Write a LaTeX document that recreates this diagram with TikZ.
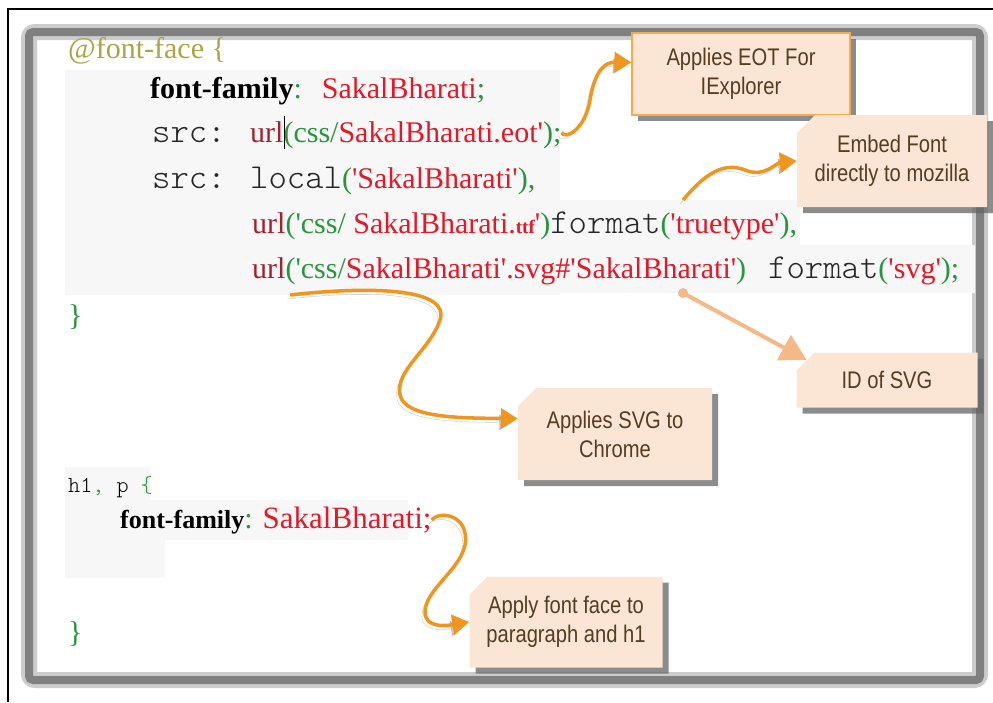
\documentclass[tikz,border=0pt]{standalone}
\usepackage{fontspec}
\setmainfont{Liberation Serif}[Ligatures=TeXOff]
\newfontfamily\codefont{Latin Modern Mono Light}
\newfontfamily\notefont[FakeStretch=0.84]{Liberation Sans}
\usetikzlibrary{arrows.meta,shapes.misc,shadows}

\definecolor{cssgreen}{RGB}{40,150,60}
\definecolor{cssred}{RGB}{225,25,40}
\definecolor{urlred}{RGB}{160,35,45}
\definecolor{atolive}{RGB}{170,165,70}
\definecolor{notefill}{RGB}{251,229,212}
\definecolor{notetext}{RGB}{85,60,35}
\definecolor{curlyor}{RGB}{240,150,30}
\definecolor{idor}{RGB}{245,185,135}

\newcommand{\gn}[1]{\textcolor{cssgreen}{#1}}
\newcommand{\rd}[1]{\textcolor{cssred}{#1}}
\newcommand{\ur}{\textcolor{urlred}{url}}
\newcommand{\mono}[1]{{\codefont\fontsize{35}{35}\selectfont\color{black!85}#1}}

\begin{document}
\begin{tikzpicture}[x=1pt,y=-1pt,
  code/.style={anchor=base west, inner sep=0pt, font=\fontsize{30}{32}\selectfont},
  note/.style={fill=notefill, text=notetext, align=center, inner sep=2pt,
    font=\notefont\fontsize{24}{29}\selectfont,
    drop shadow={shadow xshift=6pt, shadow yshift=-6pt, fill=black!60, opacity=.75}},
  folded/.style={note, chamfered rectangle, chamfered rectangle corners=north west,
    chamfered rectangle xsep=9pt, chamfered rectangle ysep=9pt},
  curly/.style={draw=curlyor, line width=3.5pt, -{Triangle[length=17pt,width=20pt]},
    preaction={draw=black!45, opacity=.5, transform canvas={shift={(-3pt,-4pt)}}}}]
\useasboundingbox (0,0) rectangle (993,702);
\fill[white] (0,0) rectangle (993,702);
\draw[line width=2pt] (8,702) -- (8,9) -- (993,9);
\draw[black!20, line width=16pt, rounded corners=6pt] (29,32) rectangle (980,680);
\draw[black!50, line width=8pt, rounded corners=4pt] (29,32) rectangle (980,680);

\fill[black!3] (65,70) rectangle (560,295);
\fill[black!3] (560,200) rectangle (800,245);
\fill[black!3] (560,245) rectangle (975,293);
\fill[black!3] (65,467) rectangle (150,500);
\fill[black!3] (65,500) rectangle (408,540);
\fill[black!3] (65,540) rectangle (165,578);

\node[code, text=atolive] (l1) at (68,58) {@font-face \{};
\node[code] (l2) at (150,98) {\textbf{font-family}\gn{:}\hspace{20pt}\rd{SakalBharati}\gn{;}};
\node[code] (l3) at (152,142) {\mono{src: }\ur\rlap{\color{black}\rule[-7pt]{1.3pt}{33pt}}\gn{(css/}\rd{SakalBharati.eot'}\gn{);}};
\node[code] (l4) at (152,188) {\mono{src: local}\gn{(}\rd{'SakalBharati'}\gn{),}};
\node[code] (l5) at (252,233) {\ur\gn{('css/} \rd{SakalBharati.{\bfseries\fontsize{19}{19}\selectfont ttf}'}\gn{)}\mono{format}\gn{(}\rd{'truetype'}\gn{),}};
\node[code] (l6) at (252,278) {\ur\gn{('css/}\rd{SakalBharati'.svg\#'SakalBharati'}\gn{)}\hspace{22pt}\mono{format}\gn{(}\rd{'svg'}\gn{);}};
\node[code, text=cssgreen] (l7) at (68,325) {\}};
\node[code] (l8) at (68,492) {{\codefont\fontsize{23}{23}\selectfont h1\gn{,} p \gn{\{}}};
\node[code] (l9) at (120,528) {{\bfseries\fontsize{26}{26}\selectfont font-family}\gn{:} \rd{\fontsize{31}{31}\selectfont SakalBharati;}};
\node[code, text=cssgreen] (l10) at (68,642) {\}};

\node[note, draw=curlyor!80, line width=1.2pt, minimum width=218pt, minimum height=82pt] (eotbox) at (741,74) {Applies EOT For\\IExplorer};
\node[folded, minimum width=190pt, minimum height=92pt] (mozbox) at (892,161) {Embed Font\\directly to mozilla};
\node[folded, minimum width=181pt, minimum height=55pt] (idbox) at (887,380) {ID of SVG};
\node[folded, minimum width=194pt, minimum height=92pt] (chromebox) at (615,434) {Applies SVG to\\Chrome};
\node[folded, minimum width=193pt, minimum height=91pt] (parabox) at (566,622) {Apply font face to\\paragraph and h1};

\coordinate (ttline) at (683,200);
\coordinate (iddot) at (683,293);
\coordinate (svgline) at (290,295);

\draw[curly] (l3.east) .. controls (565,140) and (585,130) .. (590,100) .. controls (595,70) and (605,62) .. (eotbox.174);
\draw[curly] (ttline) .. controls (700,180) and (720,160) .. (745,170) .. controls (765,178) and (775,163) .. (mozbox.west);
\draw[curly] (svgline) .. controls (380,285) and (450,290) .. (440,320) .. controls (430,350) and (395,370) .. (400,395) .. controls (405,418) and (460,418) .. (chromebox.171);
\draw[curly] (l9.east) .. controls (440,510) and (470,515) .. (465,545) .. controls (460,570) and (425,590) .. (425,612) .. controls (425,628) and (445,626) .. (parabox.west);
\fill[idor] (iddot) circle (5);
\draw[idor, line width=4pt, -{Triangle[length=26pt,width=28pt]}] (iddot) -- (idbox.166);
\end{tikzpicture}
\end{document}
